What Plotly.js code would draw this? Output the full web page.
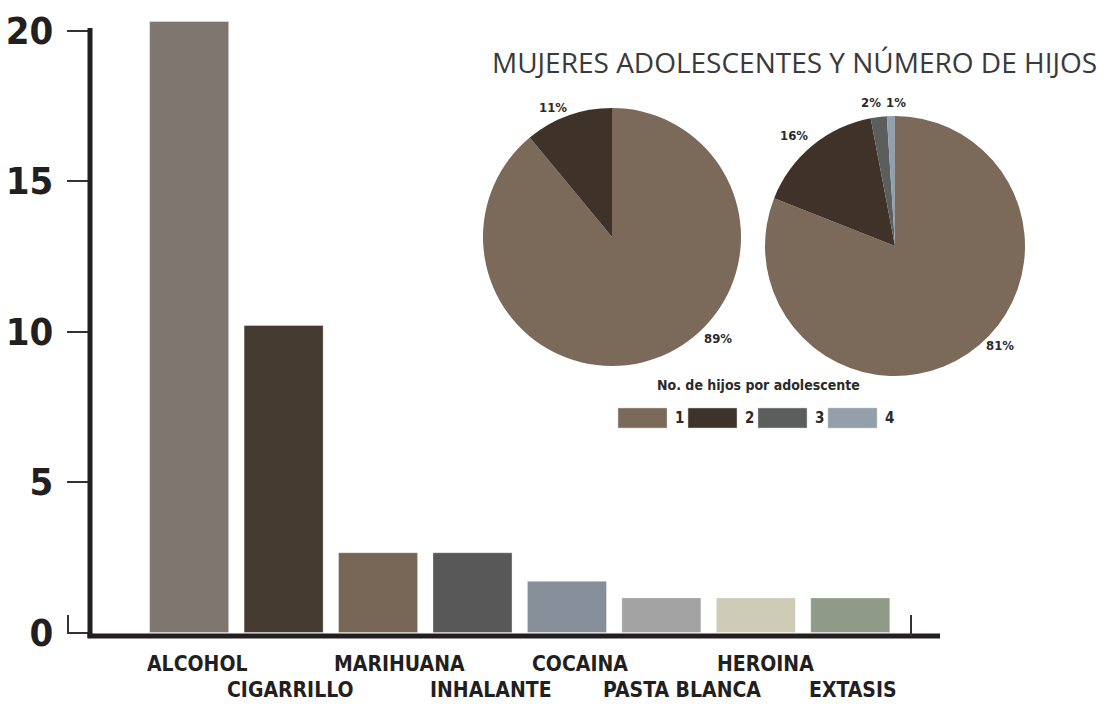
<!DOCTYPE html>
<html>
<head>
<meta charset="utf-8">
<script src="https://cdn.plot.ly/plotly-3.0.1.min.js"></script>
<style>
  html, body { margin: 0; padding: 0; background: #ffffff; }
  #chart { width: 1116px; height: 704px; }
</style>
</head>
<body>
<div id="chart"></div>
<script>
// ---------- data ----------
const categories = ['ALCOHOL', 'CIGARRILLO', 'MARIHUANA', 'INHALANTE', 'COCAINA', 'PASTA BLANCA', 'HEROINA', 'EXTASIS'];
const values = [20.3, 10.2, 2.65, 2.65, 1.7, 1.15, 1.15, 1.15];
const barColors = ['#7e766f', '#443a30', '#776555', '#585858', '#868e99', '#a3a3a3', '#cecbb7', '#8f9b86'];
const yTickVals = [0, 5, 10, 15, 20];

const pieLabels = ['1', '2', '3', '4'];
const pieColors = ['#7b6a5a', '#3f3329', '#5b5e5c', '#939fab'];
const pieLeftValues = [89, 11];
const pieRightValues = [81, 16, 2, 1];

const chartTitle = 'MUJERES ADOLESCENTES Y NÚMERO DE HIJOS';
const legendTitle = 'No. de hijos por adolescente';

// ---------- layout helpers (pixel -> paper) ----------
const W = 1116, H = 704;
const ML = 90, MR = 0, MT = 15, MB = 68;
const PW = W - ML - MR, PH = H - MT - MB;
const X = px => (px - ML) / PW;
const Y = py => (H - MB - py) / PH;

const catFont = "'Liberation Sans Narrow', 'DejaVu Sans Condensed', 'Liberation Sans', Arial, sans-serif";
const labelShift = [8, 7, 21, 18, 13, 21, 10, 3];
const labelRowY = [664, 690];

const traces = [
  {
    type: 'bar',
    x: categories,
    y: values,
    marker: { color: barColors, line: { color: 'rgba(255,255,255,0.35)', width: 1 } },
    width: 0.837,
    hoverinfo: 'x+y',
    showlegend: false
  },
  {
    type: 'pie',
    labels: pieLabels.slice(0, pieLeftValues.length),
    values: pieLeftValues,
    marker: { colors: pieColors, line: { width: 0 } },
    sort: false,
    direction: 'clockwise',
    rotation: 0,
    textinfo: 'none',
    showlegend: false,
    domain: { x: [X(483), X(741)], y: [Y(366), Y(108)] }
  },
  {
    type: 'pie',
    labels: pieLabels,
    values: pieRightValues,
    marker: { colors: pieColors, line: { width: 0 } },
    sort: false,
    direction: 'clockwise',
    rotation: 0,
    textinfo: 'none',
    showlegend: false,
    domain: { x: [X(765), X(1025)], y: [Y(376), Y(116)] }
  }
];

const annotations = [];
categories.forEach((c, i) => {
  annotations.push({
    x: c, xref: 'x', y: Y(labelRowY[i % 2]), yref: 'paper',
    text: c, showarrow: false, xshift: labelShift[i],
    xanchor: 'center', yanchor: 'middle',
    font: { family: catFont, size: 21, color: '#231f20', weight: 700 }
  });
});

annotations.push({
  x: X(794), y: Y(62), xref: 'paper', yref: 'paper', text: chartTitle,
  showarrow: false, xanchor: 'center', yanchor: 'middle',
  font: { family: "'Open Sans', sans-serif", size: 28, color: '#3a3a3a' }
});

// pie percentage labels
const pieLeftLabelPos = [[718, 338], [553, 107]];
const pieRightLabelPos = [[1000, 346], [794, 135], [871, 103], [896, 103]];
const pctFont = { family: catFont, size: 13, color: '#2a2a2a', weight: 700 };
pieLeftValues.forEach((v, i) => annotations.push({
  x: X(pieLeftLabelPos[i][0]), y: Y(pieLeftLabelPos[i][1]), xref: 'paper', yref: 'paper',
  text: v + '%', showarrow: false, xanchor: 'center', yanchor: 'middle', font: pctFont
}));
pieRightValues.forEach((v, i) => annotations.push({
  x: X(pieRightLabelPos[i][0]), y: Y(pieRightLabelPos[i][1]), xref: 'paper', yref: 'paper',
  text: v + '%', showarrow: false, xanchor: 'center', yanchor: 'middle', font: pctFont
}));

// legend title
annotations.push({
  x: X(758), y: Y(385), xref: 'paper', yref: 'paper', text: legendTitle,
  showarrow: false, xanchor: 'center', yanchor: 'middle',
  font: { family: catFont, size: 14, color: '#2a2a2a', weight: 700 }
});

const shapes = [];
// custom legend swatches
const legBoxX = [618, 688, 758, 828];
pieLabels.forEach((lab, i) => {
  shapes.push({
    type: 'rect', xref: 'paper', yref: 'paper',
    x0: X(legBoxX[i]), x1: X(legBoxX[i] + 49), y0: Y(428), y1: Y(408),
    fillcolor: pieColors[i], line: { width: 0.5, color: '#cccccc' }
  });
  annotations.push({
    x: X(legBoxX[i] + 55), y: Y(418), xref: 'paper', yref: 'paper', text: lab,
    showarrow: false, xanchor: 'left', yanchor: 'middle',
    font: { family: catFont, size: 15, color: '#2a2a2a', weight: 700 }
  });
});

// axis lines
shapes.push({ type: 'line', xref: 'paper', yref: 'paper', x0: X(87.5), x1: X(940), y0: Y(636), y1: Y(636), line: { color: '#231f20', width: 5 } });
shapes.push({ type: 'line', xref: 'paper', yref: 'paper', x0: X(90), x1: X(90), y0: Y(638), y1: Y(28), line: { color: '#231f20', width: 5 } });
// small end ticks
shapes.push({ type: 'line', xref: 'paper', yref: 'paper', x0: X(68), x1: X(68), y0: Y(633), y1: Y(615), line: { color: '#333333', width: 2 } });
shapes.push({ type: 'line', xref: 'paper', yref: 'paper', x0: X(911), x1: X(911), y0: Y(636), y1: Y(615), line: { color: '#333333', width: 2 } });

const layout = {
  width: W, height: H,
  margin: { l: ML, r: MR, t: MT, b: MB, pad: 0 },
  paper_bgcolor: '#ffffff', plot_bgcolor: '#ffffff',
  showlegend: false,
  xaxis: {
    domain: [0, X(940)],
    type: 'category',
    range: [-1.05, 7.95],
    showticklabels: false, ticks: '', showline: false, showgrid: false, zeroline: false, fixedrange: true
  },
  yaxis: {
    range: [-0.116, 20.515],
    tickvals: yTickVals,
    ticktext: yTickVals.map(String),
    ticks: 'outside', ticklen: 22, tickwidth: 2, tickcolor: '#333333',
    ticklabelstandoff: 6,
    tickfont: { family: catFont, size: 38, color: '#231f20', weight: 700 },
    showline: false, showgrid: false, zeroline: false, fixedrange: true
  },
  annotations: annotations,
  shapes: shapes
};

Plotly.newPlot('chart', traces, layout, { displayModeBar: false, staticPlot: true });
</script>
</body>
</html>
